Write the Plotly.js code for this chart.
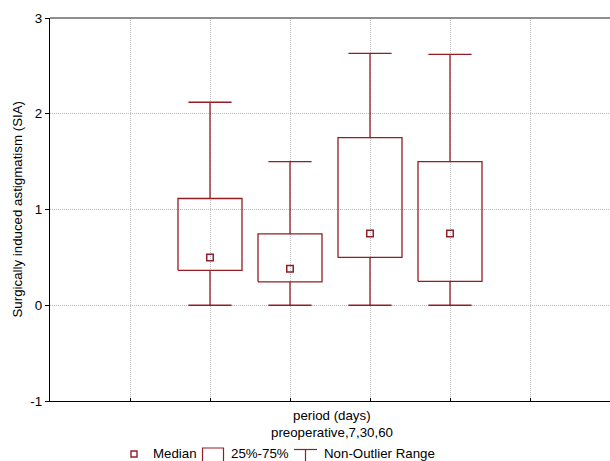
<!DOCTYPE html>
<html>
<head>
<meta charset="utf-8">
<script src="https://cdn.plot.ly/plotly-3.0.1.min.js"></script>
<style>
html,body{margin:0;padding:0;overflow:hidden;background:#fff;}
#chart{width:630px;height:461px;}
</style>
</head>
<body>
<div id="chart"></div>
<script>
// ---- data ----
var categories = ["preoperative", "7", "30", "60"];
var positions = [2, 3, 4, 5];
var medians = [0.50, 0.38, 0.75, 0.75];
var q1 = [0.365, 0.245, 0.50, 0.25];
var q3 = [1.115, 0.745, 1.75, 1.50];
var lowWhisker = [0, 0, 0, 0];
var highWhisker = [2.12, 1.50, 2.63, 2.62];

var yTickVals = [-1, 0, 1, 2, 3];
var yTickText = ["-1", "0", "1", "2", "3"];
var xTickVals = [1, 2, 3, 4, 5, 6];

// ---- style ----
var RED = '#921e24';
var BOX_HALF = 0.4;
var CAP_HALF = 0.27;
var FONT = 'Liberation Sans, Arial, sans-serif';

// build box rectangles
var bx = [], by = [];
var wx = [], wy = [];
for (var i = 0; i < positions.length; i++) {
  var c = positions[i];
  bx.push(c - BOX_HALF, c + BOX_HALF, c + BOX_HALF, c - BOX_HALF, c - BOX_HALF, null);
  by.push(q1[i], q1[i], q3[i], q3[i], q1[i], null);
  // lower whisker
  wx.push(c, c, null, c - CAP_HALF, c + CAP_HALF, null);
  wy.push(q1[i], lowWhisker[i], null, lowWhisker[i], lowWhisker[i], null);
  // upper whisker
  wx.push(c, c, null, c - CAP_HALF, c + CAP_HALF, null);
  wy.push(q3[i], highWhisker[i], null, highWhisker[i], highWhisker[i], null);
}

var traces = [
  {type: 'scatter', mode: 'lines', x: wx, y: wy, line: {color: RED, width: 1.3},
   hoverinfo: 'skip', showlegend: false, cliponaxis: false},
  {type: 'scatter', mode: 'lines', x: bx, y: by, line: {color: RED, width: 1.3},
   fill: 'none', hoverinfo: 'skip', showlegend: false},
  {type: 'scatter', mode: 'markers', x: positions, y: medians, text: categories,
   marker: {symbol: 'square-open', size: 6.5, color: RED, line: {width: 1.5, color: RED}},
   showlegend: false}
];

// pixel helpers for legend decoration (plot area: x 50..630, y 18..401)
var PL = 50, PR = 630, PT = 18, PB = 401;
function px(x) { return (x - PL) / (PR - PL); }
function py(y) { return (PB - y) / (PB - PT); }

var shapes = [
  // top border
  {type: 'line', xref: 'paper', yref: 'paper', x0: 0, x1: 1, y0: 1, y1: 1,
   line: {color: '#6a6a6a', width: 1.3}},
  // legend: median marker
  {type: 'rect', xref: 'paper', yref: 'paper', x0: px(131), x1: px(137), y0: py(457), y1: py(451),
   line: {color: RED, width: 1.4}},
  // legend: box
  {type: 'rect', xref: 'paper', yref: 'paper', x0: px(202.5), x1: px(223.5), y0: py(462), y1: py(448),
   line: {color: RED, width: 1.2}},
  // legend: whisker
  {type: 'line', xref: 'paper', yref: 'paper', x0: px(294), x1: px(317), y0: py(449.5), y1: py(449.5),
   line: {color: RED, width: 1.2}},
  {type: 'line', xref: 'paper', yref: 'paper', x0: px(305.5), x1: px(305.5), y0: py(449.5), y1: py(462),
   line: {color: RED, width: 1.2}}
];

var annFont = {family: FONT, size: 13.3, color: '#000'};
var annotations = [
  {xref: 'paper', yref: 'paper', x: px(332), y: py(415), text: 'period (days)',
   showarrow: false, xanchor: 'center', yanchor: 'middle', font: annFont},
  {xref: 'paper', yref: 'paper', x: px(332), y: py(432), text: 'preoperative,7,30,60',
   showarrow: false, xanchor: 'center', yanchor: 'middle', font: annFont},
  {xref: 'paper', yref: 'paper', x: px(17), y: 0.5, text: 'Surgically induced astigmatism (SIA)',
   textangle: -90, showarrow: false, xanchor: 'center', yanchor: 'middle', font: annFont},
  {xref: 'paper', yref: 'paper', x: px(151), y: py(454), text: 'Median',
   showarrow: false, xanchor: 'left', yanchor: 'middle', font: annFont},
  {xref: 'paper', yref: 'paper', x: px(229), y: py(454), text: '25%-75%',
   showarrow: false, xanchor: 'left', yanchor: 'middle', font: annFont},
  {xref: 'paper', yref: 'paper', x: px(322), y: py(454), text: 'Non-Outlier Range',
   showarrow: false, xanchor: 'left', yanchor: 'middle', font: annFont}
];

var layout = {
  width: 630, height: 461,
  margin: {l: PL, r: 0, t: PT, b: 461 - PB},
  paper_bgcolor: '#fff', plot_bgcolor: '#fff',
  font: {family: FONT, size: 13, color: '#000'},
  showlegend: false,
  xaxis: {
    range: [0, 7.25], tickvals: xTickVals, ticktext: xTickVals.map(function(){return '';}),
    showgrid: true, gridcolor: '#bcbcbc', griddash: '1px,1px', gridwidth: 1,
    showline: true, linecolor: '#000', linewidth: 1.3,
    ticks: 'inside', ticklen: 3, tickcolor: '#000', zeroline: false, fixedrange: true
  },
  yaxis: {
    range: [-1, 3], tickvals: yTickVals, ticktext: yTickText,
    showgrid: true, gridcolor: '#bcbcbc', griddash: '1px,1px', gridwidth: 1,
    showline: true, linecolor: '#000', linewidth: 1.3,
    ticks: 'outside', ticklen: 4, tickcolor: '#000', zeroline: false,
    tickfont: {family: FONT, size: 13.3, color: '#000'}, fixedrange: true
  },
  shapes: shapes,
  annotations: annotations
};

Plotly.newPlot('chart', traces, layout, {displayModeBar: false, staticPlot: true});
</script>
</body>
</html>
